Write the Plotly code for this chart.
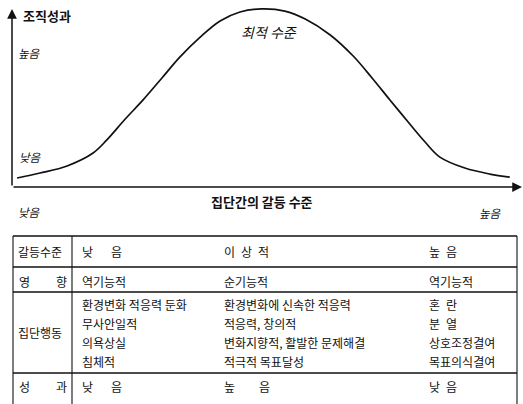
import plotly.graph_objects as go

# Conflict level (0-100) vs organisational performance (0-100)
conflict_level = [1.0, 5.5, 10.8, 15.9, 18.6, 22.2, 25.7, 29.4, 32.9, 36.9, 40.8, 44.7,
                  49.0, 53.5, 57.5, 62.4, 66.9, 70.6, 74.1, 78.0, 81.0, 83.9, 88.8, 93.7, 97.6]
performance = [5.1, 7.9, 11.9, 19.2, 26.6, 38.4, 49.2, 61.6, 73.4, 84.7, 93.8, 98.9,
               100.6, 99.4, 94.9, 85.9, 74.0, 61.6, 49.2, 35.6, 25.4, 16.9, 10.7, 7.3, 5.6]

y_title = "조직성과"
x_title = "집단간의 갈등 수준"
high_label = "높음"
low_label = "낮음"
peak_label = "최적 수준"

# Summary table
EN, EM = "\u2002", "\u3000"
row_labels = ["갈등수준", "영 향", "집단행동", "성 과"]
col_low = [["낮" + EM + EN + "음"], ["역기능적"],
           ["환경변화 적응력 둔화", "무사안일적", "의욕상실", "침체적"], ["낮" + EM + EN + "음"]]
col_opt = [["이" + EN + "상" + EN + "적"], ["순기능적"],
           ["환경변화에 신속한 적응력", "적응력, 창의적", "변화지향적, 활발한 문제해결", "적극적 목표달성"],
           ["높" + EM + EM + "음"]]
col_high = [["높" + EN + "음"], ["역기능적"],
            ["혼" + EN + "란", "분" + EN + "열", "상호조정결여", "목표의식결여"], ["낮" + EN + "음"]]

W, H = 523, 404
X0, Y0 = 12, 187          # origin of the chart in pixels
SX, SY = 5.1, 1.77        # pixels per data unit


def px(x):
    return x / W


def py(y):
    return 1 - y / H


fig = go.Figure()
fig.add_trace(go.Scatter(
    x=conflict_level, y=performance, mode="lines",
    line=dict(color="#111111", width=1.7, shape="spline", smoothing=1.0),
    hoverinfo="skip", showlegend=False,
))

ann = []
shapes = []
ink = "#111111"
kr = "Noto Sans CJK KR"

# axes with arrow heads
ann.append(dict(x=100, y=0, ax=0, ay=0, xref="x", yref="y", axref="x", ayref="y",
                showarrow=True, arrowhead=2, arrowsize=1.3, arrowwidth=1.5,
                arrowcolor=ink, text=""))
ann.append(dict(x=0, y=100.5, ax=0, ay=0, xref="x", yref="y", axref="x", ayref="y",
                showarrow=True, arrowhead=2, arrowsize=1.3, arrowwidth=1.5,
                arrowcolor=ink, text=""))


def label(text, x, y, size, anchor="left", **kw):
    ann.append(dict(text=text, x=px(x), y=py(y), xref="paper", yref="paper",
                    xanchor=anchor, yanchor="middle", showarrow=False,
                    font=dict(family=kr, size=size, color=ink), **kw))


label("<b>" + y_title + "</b>", 21, 15, 13)
label("<i>" + high_label + "</i>", 16, 53, 11.5)
label("<i>" + low_label + "</i>", 17, 157, 11.5)
label("<i>" + peak_label + "</i>", 269, 32, 14, anchor="center")
label("<b>" + x_title + "</b>", 262, 201, 13, anchor="center")
label("<i>" + low_label + "</i>", 16, 212, 11.5)
label("<i>" + high_label + "</i>", 504, 213, 11.5, anchor="right")

# table frame
LEFT, DIV, RIGHT = 13, 72, 517
h_lines = [236, 267, 292, 373]
for yy in h_lines:
    shapes.append(dict(type="line", xref="paper", yref="paper", x0=px(LEFT), x1=px(RIGHT),
                       y0=py(yy), y1=py(yy), line=dict(color=ink, width=1.4)))
for xx in (LEFT, DIV, RIGHT):
    shapes.append(dict(type="line", xref="paper", yref="paper", x0=px(xx), x1=px(xx),
                       y0=py(236), y1=py(404), line=dict(color=ink, width=1.1)))

row_lines_y = [[251], [281], [304, 323, 342, 361], [386]]
tfs = 12
for i, name in enumerate(row_labels):
    ys = row_lines_y[i]
    ymid = sum(ys) / len(ys)
    if " " in name:
        a, b = name.split(" ")
        label(a, 17, ymid, tfs)
        label(b, 69, ymid, tfs, anchor="right")
    else:
        label(name, 16, ymid, tfs)
    for col, cx in ((col_low, 80), (col_opt, 222), (col_high, 427)):
        for t, yy in zip(col[i], ys):
            label(t, cx, yy, tfs)

fig.update_layout(
    width=W, height=H, margin=dict(l=0, r=0, t=0, b=0),
    paper_bgcolor="white", plot_bgcolor="white",
    xaxis=dict(visible=False, range=[-X0 / SX, (W - X0) / SX], domain=[0, 1], fixedrange=True),
    yaxis=dict(visible=False, range=[-(H - Y0) / SY, Y0 / SY], domain=[0, 1], fixedrange=True),
    annotations=ann, shapes=shapes, showlegend=False,
)

fig.write_html("out.html")
